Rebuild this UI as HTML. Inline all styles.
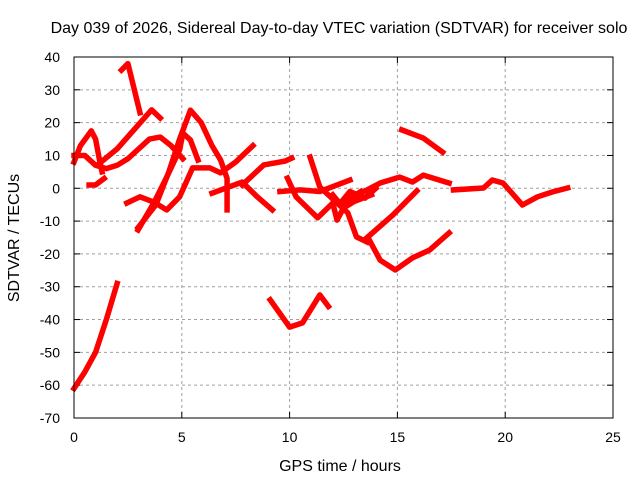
<!DOCTYPE html>
<html><head><meta charset="utf-8"><style>
body{margin:0;background:#fff}
svg{display:block;font-family:"Liberation Sans",sans-serif}
</style></head><body>
<svg id="c" width="640" height="480">
<rect width="640" height="480" fill="#fff"/>
<g id="grid"></g><g id="ticks"></g><g id="series"></g>
<rect x="74" y="57" width="539" height="361" fill="none" stroke="#000" stroke-width="1"/>
<text x="339" y="33" text-anchor="middle" font-size="16">Day 039 of 2026, Sidereal Day-to-day VTEC variation (SDTVAR) for receiver solo</text>
<text x="340" y="471" text-anchor="middle" font-size="16">GPS time / hours</text>
<text transform="translate(19,238) rotate(-90)" text-anchor="middle" font-size="16">SDTVAR / TECUs</text>
</svg>
<script>
const xTicks=[0,5,10,15,20,25];
const yTicks=[40,30,20,10,0,-10,-20,-30,-40,-50,-60,-70];
const track1=[[0,-61],[0.5,-56],[1,-50],[1.5,-40],[2,-29]];
const track2=[[0,8],[0.3,13],[0.8,17.5],[1,15],[1.2,8],[1.3,5]];
const track3=[[0,10],[0.5,10],[1,7],[1.5,6],[2,7],[2.5,9],[3,12],[3.5,15],[4,15.6],[4.5,13],[5.05,9]];
const track4=[[1.2,7.7],[2,12],[2.9,18.7],[3.6,23.9],[4,21.4]];
const track5=[[2.2,36],[2.5,38],[2.8,30],[3.06,23]];
const track6=[[0.7,1],[1,1],[1.4,3]];
const track7=[[2.97,-12],[3.8,-5],[4.4,5],[4.9,15],[5.4,23.8],[5.9,20],[6.4,13],[6.8,8.6],[7.1,3],[7.1,-6.6]];
const track8=[[2.45,-4.5],[3.06,-2.6],[3.7,-4.2],[4.3,-6.6],[4.9,-2.6],[5.5,6.2],[6.3,6.2],[6.8,4.7],[7.5,8],[8.3,13]];
const track9=[[2.97,-12.7],[3.7,-4.5],[4.3,3.4],[4.9,11.7],[5.05,16.8],[5.4,14.7],[5.75,8.6]];
const track10=[[6.4,-1.5],[7.8,1.9],[8.5,-2.6],[9.2,-6.6]];
const track11=[[7.8,1],[8.8,7.1],[9.8,8.3],[10.1,9.2]];
const track12=[[9.1,-34],[10,-42.3],[10.6,-41],[11.4,-32.5],[11.8,-36]];
const track13=[[9.55,-1],[10.5,-0.5],[11.4,-1],[12.8,2.5]];
const track14=[[9.9,3.1],[10.3,-2.6],[11.3,-9],[12,-4.5],[12.2,-9.7],[12.7,-3.6],[13.3,-1]];
const track15=[[10.95,9.5],[11.4,0.4],[12.7,-7.5],[13.1,-14.8],[13.6,-16.4]];
const track16=[[13.6,-15],[14.8,-8.1],[15.9,-0.8]];
const track17=[[13.7,-15.8],[14.2,-21.9],[14.9,-24.9],[15.7,-21.2],[16.5,-18.8],[17.4,-13.6]];
const track18=[[12.7,-3.6],[14.2,1.6],[15.1,3.4],[15.7,1.9],[16.2,4],[17.4,1.6]];
const track19=[[15.2,17.8],[16.2,15.3],[17.1,11]];
const track20=[[17.6,-0.5],[19,0.1],[19.4,2.5],[19.9,1.6],[20.8,-5.1],[21.5,-2.6],[22.2,-1.1],[22.9,0.1]];
const track21=[[12.3,-5],[12.8,-1],[13.5,-3],[14,0]];
const track22=[[12,-2],[12.5,-6],[13,-4],[13.8,-2]];
const tracks=[track1,track2,track3,track4,track5,track6,track7,track8,track9,track10,track11,track12,track13,track14,track15,track16,track17,track18,track19,track20,track21,track22];
const NS="http://www.w3.org/2000/svg";
const X0=74,X1=613,Y0=418,Y1=57;
function sx(h){return X0+(h-0)/(25-0)*(X1-X0);}
function sy(v){return Y0-(v-(-70))/(40-(-70))*(Y0-Y1);}
function mk(tag,attrs,parent){const e=document.createElementNS(NS,tag);for(const k in attrs)e.setAttribute(k,attrs[k]);parent.appendChild(e);return e;}
const grid=document.getElementById('grid'),ticks=document.getElementById('ticks'),ser=document.getElementById('series');
xTicks.forEach(t=>{
  const x=sx(t);
  if(t>0&&t<25){const g=mk('line',{x1:x,x2:x,y1:Y1,y2:Y0,stroke:'#a0a0a0','stroke-dasharray':'3,3'},grid);
  
  }
  mk('line',{x1:x,x2:x,y1:Y0,y2:Y0-6,stroke:'#000'},ticks);
  mk('line',{x1:x,x2:x,y1:Y1,y2:Y1+6,stroke:'#000'},ticks);
  const l=mk('text',{x:x,y:Y0+24,'text-anchor':'middle','font-size':'14'},ticks);l.textContent=t;
  
  
});
yTicks.forEach(t=>{
  const y=sy(t);
  if(t<40&&t>-70){const g=mk('line',{x1:X0,x2:X1,y1:y,y2:y,stroke:'#a0a0a0','stroke-dasharray':'3,3'},grid);
  
  }
  mk('line',{x1:X0,x2:X0+6,y1:y,y2:y,stroke:'#000'},ticks);
  mk('line',{x1:X1,x2:X1-6,y1:y,y2:y,stroke:'#000'},ticks);
  const l=mk('text',{x:X0-14,y:y+5,'text-anchor':'end','font-size':'14'},ticks);l.textContent=t;
  
  
});
tracks.forEach((tr,i)=>{
  const p=mk('polyline',{points:tr.map(d=>sx(d[0])+','+sy(d[1])).join(' '),fill:'none',stroke:'#ff0000','stroke-width':'5.5','stroke-linejoin':'round','stroke-linecap':'square'},ser);
  
  
});
</script>
</body></html>
